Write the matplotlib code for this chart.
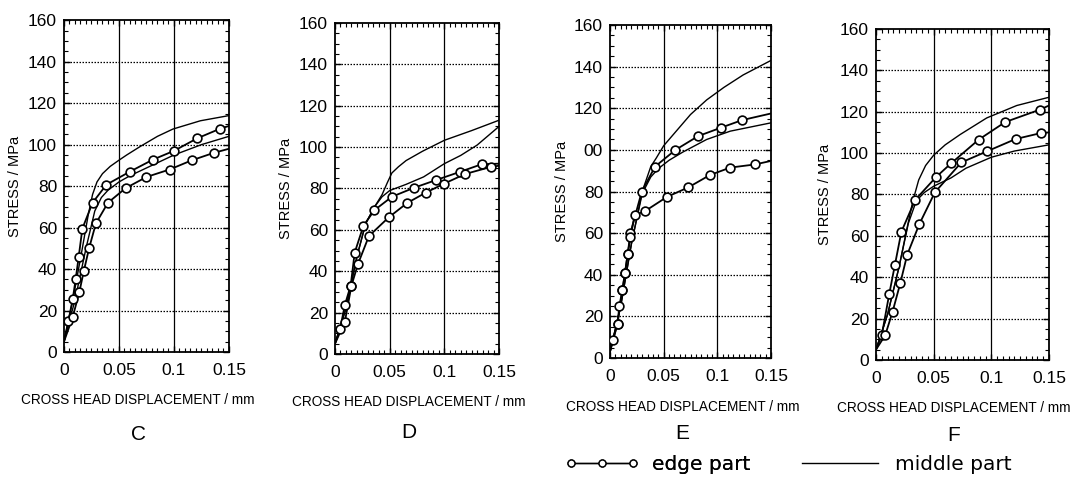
import numpy as np
import matplotlib
matplotlib.use("Agg")
import matplotlib.pyplot as plt
from matplotlib.lines import Line2D
from matplotlib.ticker import MultipleLocator

plt.rcParams['font.family'] = ['Liberation Sans', 'DejaVu Sans']

# ---- data (x: mm, y: MPa) ----
panel_names = ['C', 'D', 'E', 'F']

# panel C
c_edge1_x = [0, 0.004, 0.008, 0.0106, 0.0134, 0.0167, 0.026, 0.0386, 0.06, 0.081, 0.1, 0.121, 0.142, 0.15]
c_edge1_y = [5, 15, 25.7, 35, 46, 59.5, 72, 80.7, 87, 92.8, 97, 103, 107.7, 109]
c_edge2_x = [0, 0.008, 0.014, 0.018, 0.0228, 0.029, 0.04, 0.056, 0.075, 0.096, 0.116, 0.136, 0.15]
c_edge2_y = [5, 17, 29, 39, 50, 62, 72, 79, 84.4, 88, 92.4, 96, 98]
c_mid1_x = [0, 0.008, 0.016, 0.022, 0.026, 0.03, 0.035, 0.042, 0.05, 0.057, 0.069, 0.085, 0.099, 0.124, 0.15]
c_mid1_y = [5, 25, 48, 66, 76, 82, 86, 89.5, 92.5, 95, 99, 104, 107.5, 111.5, 114]
c_mid2_x = [0, 0.01, 0.02, 0.028, 0.034, 0.04, 0.05, 0.06, 0.08, 0.1, 0.125, 0.15]
c_mid2_y = [5, 25, 50, 68, 74.5, 78, 82, 85, 90, 95, 100, 104]

# panel D
d_edge1_x = [0, 0.0046, 0.009, 0.0143, 0.018, 0.026, 0.036, 0.052, 0.072, 0.092, 0.114, 0.134, 0.15]
d_edge1_y = [5, 12, 23.7, 33, 49, 62, 69.5, 76, 80.3, 84, 88, 91.7, 92]
d_edge2_x = [0, 0.009, 0.015, 0.021, 0.031, 0.049, 0.066, 0.083, 0.1, 0.119, 0.143, 0.15]
d_edge2_y = [5, 15.6, 33, 43.5, 57, 66, 73, 78, 82.4, 87, 90.5, 91]
d_mid1_x = [0, 0.01, 0.02, 0.028, 0.036, 0.043, 0.048, 0.052, 0.058, 0.065, 0.08, 0.1, 0.125, 0.15]
d_mid1_y = [5, 22, 47, 63, 71, 77, 83, 87.5, 90.5, 93.5, 98, 103.3, 108, 113]
d_mid2_x = [0, 0.01, 0.02, 0.028, 0.036, 0.043, 0.05, 0.065, 0.081, 0.1, 0.115, 0.13, 0.15]
d_mid2_y = [5, 22, 47, 63, 71, 76, 79, 82, 85.6, 92, 96, 101, 110]

# panel E
e_edge1_x = [0, 0.0025, 0.007, 0.0087, 0.0115, 0.014, 0.0165, 0.019, 0.0296, 0.042, 0.061, 0.082, 0.103, 0.123, 0.15]
e_edge1_y = [3, 8.5, 16.5, 25, 32.5, 41, 50, 60, 80, 92, 100, 106.6, 110.6, 114.3, 117.5]
e_edge2_x = [0, 0.007, 0.0115, 0.014, 0.0165, 0.019, 0.023, 0.033, 0.053, 0.073, 0.093, 0.112, 0.135, 0.15]
e_edge2_y = [3, 16.5, 32.5, 41, 50, 58, 68.6, 70.7, 77.4, 82, 87.9, 91.5, 93, 94.7]
e_mid1_x = [0, 0.01, 0.02, 0.03, 0.038, 0.043, 0.05, 0.06, 0.075, 0.09, 0.106, 0.124, 0.15]
e_mid1_y = [3, 25, 55, 80, 92, 96, 102, 108, 117, 124, 130, 136, 143]
e_mid2_x = [0, 0.01, 0.02, 0.03, 0.038, 0.045, 0.055, 0.068, 0.09, 0.112, 0.15]
e_mid2_y = [3, 25, 55, 79, 87, 91, 95, 99, 105, 109, 113]

# panel F
f_edge1_x = [0, 0.005, 0.0115, 0.0164, 0.022, 0.034, 0.052, 0.065, 0.089, 0.112, 0.142, 0.15]
f_edge1_y = [5, 12, 32, 46, 62, 77.4, 88.4, 95, 106.5, 115, 121, 123]
f_edge2_x = [0, 0.008, 0.0144, 0.021, 0.027, 0.0375, 0.051, 0.074, 0.096, 0.121, 0.143, 0.15]
f_edge2_y = [5, 12, 23.4, 37, 50.8, 65.6, 81, 95.5, 100.8, 106.8, 109.7, 110]
f_mid1_x = [0, 0.01, 0.02, 0.027, 0.032, 0.037, 0.043, 0.05, 0.06, 0.073, 0.096, 0.122, 0.15]
f_mid1_y = [5, 22, 45, 64, 77, 87, 94, 99, 104, 109, 117, 123, 127]
f_mid2_x = [0, 0.01, 0.02, 0.028, 0.035, 0.042, 0.05, 0.065, 0.078, 0.1, 0.12, 0.15]
f_mid2_y = [5, 22, 45, 66, 77, 81, 84, 88, 92.7, 98, 101, 104]

edge_x = [[c_edge1_x, c_edge2_x], [d_edge1_x, d_edge2_x], [e_edge1_x, e_edge2_x], [f_edge1_x, f_edge2_x]]
edge_y = [[c_edge1_y, c_edge2_y], [d_edge1_y, d_edge2_y], [e_edge1_y, e_edge2_y], [f_edge1_y, f_edge2_y]]
mid_x = [[c_mid1_x, c_mid2_x], [d_mid1_x, d_mid2_x], [e_mid1_x, e_mid2_x], [f_mid1_x, f_mid2_x]]
mid_y = [[c_mid1_y, c_mid2_y], [d_mid1_y, d_mid2_y], [e_mid1_y, e_mid2_y], [f_mid1_y, f_mid2_y]]

x_ticks = [0, 0.05, 0.1, 0.15]
x_tick_labels = ['0', '0.05', '0.1', '0.15']
y_ticks = [0, 20, 40, 60, 80, 100, 120, 140, 160]
y_tick_labels_e = ['0', '20', '40', '60', '80', '00', '120', '140', '160']

# axes boxes in figure fractions
boxes = [
    [0.0598, 0.2712, 0.1542, 0.6870],
    [0.3131, 0.2671, 0.1533, 0.6853],
    [0.5701, 0.2588, 0.1505, 0.6894],
    [0.8187, 0.2547, 0.1617, 0.6853],
]
letter_y = [0.10, 0.105, 0.103, 0.099]

fig = plt.figure(figsize=(10.7, 4.83), dpi=100)

for i, name in enumerate(panel_names):
    ax = fig.add_axes(boxes[i])
    ax.set_xlim(0, 0.15)
    ax.set_ylim(0, 160)

    # grid: solid verticals, dotted horizontals
    for gx in [0.05, 0.1]:
        ax.axvline(gx, color='black', lw=0.9, zorder=1)
    for gy in y_ticks[1:-1]:
        ax.axhline(gy, color='black', lw=0.9, ls=(0, (1.2, 1.2)), zorder=1)

    for xs, ys in zip(mid_x[i], mid_y[i]):
        ax.plot(xs, ys, color='black', lw=1.0, zorder=2)
    for xs, ys in zip(edge_x[i], edge_y[i]):
        ax.plot(xs, ys, color='black', lw=1.3, zorder=3)
        ax.plot(xs[1:-1], ys[1:-1], ls='none', marker='o', ms=6.3, mfc='white',
                mec='black', mew=1.2, zorder=4)

    ax.set_xticks(x_ticks)
    ax.set_xticklabels(x_tick_labels)
    ax.set_yticks(y_ticks)
    ax.set_yticklabels(y_tick_labels_e if name == 'E' else [str(v) for v in y_ticks])
    ax.xaxis.set_minor_locator(MultipleLocator(0.005))
    ax.yaxis.set_minor_locator(MultipleLocator(5))
    ax.tick_params(which='both', direction='in', top=True, right=True, labelsize=12.5)
    ax.tick_params(axis='x', which='major', pad=8)
    ax.tick_params(axis='y', which='major', pad=5)
    ax.tick_params(which='major', length=4, width=1)
    ax.tick_params(which='minor', length=3, width=0.8)
    for sp in ax.spines.values():
        sp.set_linewidth(1.3)

    ax.set_ylabel('STRESS / MPa', fontsize=10.5)
    ax.yaxis.set_label_coords(-0.255, 0.5)
    ax.set_xlabel('CROSS HEAD DISPLACEMENT / mm', fontsize=9.8)
    ax.xaxis.set_label_coords(0.45, -0.125)
    cx = boxes[i][0] + boxes[i][2] * 0.45
    fig.text(cx, letter_y[i], name, ha='center', va='center', fontsize=15)

# legend
edge_handle = Line2D([], [], color='black', lw=1.0, marker='o', ms=5, mfc='white', mec='black')
mid_handle = Line2D([], [], color='black', lw=1.0)
leg1 = fig.legend([edge_handle], ['edge part'], loc='center left', bbox_to_anchor=(0.528, 0.039),
                  frameon=False, numpoints=3, handlelength=3.7, handletextpad=0.6,
                  borderpad=0, borderaxespad=0, prop={'family': 'DejaVu Sans', 'size': 14.5})
fig.add_artist(leg1)
fig.legend([mid_handle], ['middle part'], loc='center left', bbox_to_anchor=(0.7495, 0.039),
           frameon=False, handlelength=3.8, handletextpad=0.8,
           borderpad=0, borderaxespad=0, prop={'family': 'DejaVu Sans', 'size': 14.5})

fig.savefig('out.png', dpi=100)
